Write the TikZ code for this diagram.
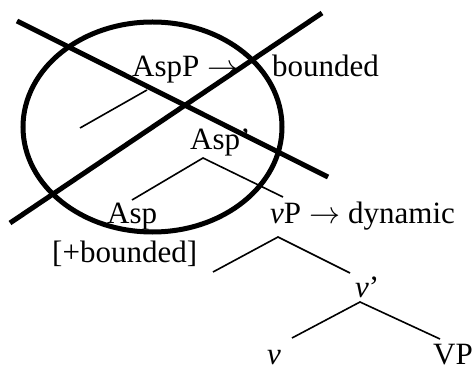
\documentclass[tikz,border=0pt]{standalone}
\usepackage{fix-cm}
\usepackage{fontspec}
\setmainfont{Liberation Serif}
\begin{document}
\begin{tikzpicture}[x=1pt,y=-1pt,
  lbl/.style={anchor=base west,inner sep=0pt,font=\fontsize{31}{36}\selectfont},
  branch/.style={line width=1.6pt},
  cross/.style={line width=5pt}]
\useasboundingbox (0,0) rectangle (473,371);
% labels
\node[lbl] (aspP) at (132,77) {AspP};
\node[lbl] (arr1) at (207,77) {$\rightarrow$};
\node[lbl] (bnd) at (272,77) {bounded};
\node[lbl] (aspbar) at (190,150) {Asp’};
\node[lbl] (asp) at (107,223) {Asp};
\node[lbl] (plusb) at (52,262) {[+bounded]};
\node[lbl] (vP) at (270,223) {\textit{v}P};
\node[lbl] (arr2) at (309,223) {$\rightarrow$};
\node[lbl] (dyn) at (348,223) {dynamic};
\node[lbl] (vbar) at (355,297) {\textit{v}’};
\node[lbl] (v) at (267,364) {\textit{v}};
\node[lbl] (VP) at (433,364) {VP};
% tree coordinates
\coordinate (a1) at (147,90);  \coordinate (a2) at (80,128);
\coordinate (b0) at (203,158); \coordinate (b1) at (132,200); \coordinate (b2) at (283,197);
\coordinate (c0) at (278,237); \coordinate (c1) at (213,272); \coordinate (c2) at (350,273);
\coordinate (d0) at (360,302); \coordinate (d1) at (292,338); \coordinate (d2) at (440,339);
\draw[branch] (a1) -- (a2);
\draw[branch] (b1) -- (b0) -- (b2);
\draw[branch] (c1) -- (c0) -- (c2);
\draw[branch] (d1) -- (d0) -- (d2);
% crossed-out ellipse
\coordinate (ec) at (152.5,127);
\coordinate (x1a) at (17,21);  \coordinate (x1b) at (328,177);
\coordinate (x2a) at (10,223); \coordinate (x2b) at (322,13);
\draw[cross] (ec) ellipse [x radius=129.5, y radius=105];
\draw[cross] (x1a) -- (x1b);
\draw[cross] (x2a) -- (x2b);
\end{tikzpicture}
\end{document}
